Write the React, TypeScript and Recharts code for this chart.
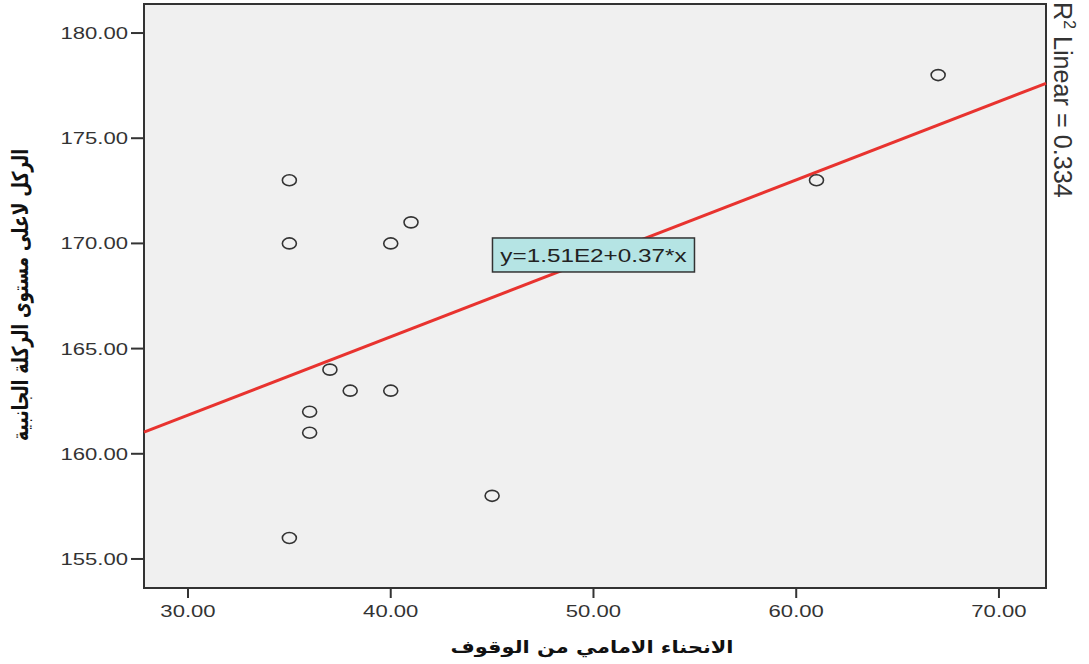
import {
  ScatterChart, Scatter, XAxis, YAxis, CartesianGrid, ReferenceLine, ReferenceArea, ReferenceDot
} from "recharts";

const xValues = [35, 35, 41, 40, 37, 38, 40, 36, 36, 45, 35, 61, 67];
const yValues = [173, 170, 171, 170, 164, 163, 163, 162, 161, 158, 156, 173, 178];
const xTicks = [30, 40, 50, 60, 70];
const yTicks = [155, 160, 165, 170, 175, 180];
const xDomain = [27.83, 72.32];
const yDomain = [153.62, 181.38];
// fit line endpoints at the plot edges
const fitX = [27.83, 72.32];
const fitY = [161.03, 177.61];
const equationText = "y=1.51E2+0.37*x";
const rSquaredText = "Linear = 0.334";
const xTitle = "الانحناء الامامي من الوقوف";
const yTitle = "الركل لاعلى مستوى الركلة الجانبية";

const points = xValues.map((x, i) => ({ x, y: yValues[i] }));

const FONT = "'Liberation Sans', Arial, sans-serif";
const AR_FONT = "'DejaVu Sans', 'Liberation Sans', sans-serif";

const XTick = ({ x, y, payload }: any) => (
  <g transform={`translate(${x},${y})`}>
    <text transform="scale(1.3,1)" y={19} textAnchor="middle" fontSize={17} fontFamily={FONT} fill="#333">
      {Number(payload.value).toFixed(2)}
    </text>
  </g>
);

// y tick labels end just left of the tick marks
const YTick = ({ y, payload }: any) => (
  <g transform={`translate(128,${y})`}>
    <text transform="scale(1.3,1)" y={6} textAnchor="end" fontSize={17} fontFamily={FONT} fill="#333">
      {Number(payload.value).toFixed(2)}
    </text>
  </g>
);

const Ring = ({ cx, cy }: any) => (
  <ellipse cx={cx} cy={cy} rx={7} ry={5.5} fill="none" stroke="#333" strokeWidth={1.6} />
);

const EquationBox = ({ cx, cy }: any) => (
  <g>
    <rect x={cx - 101} y={cy - 17} width={202} height={34} fill="#b5e4e4" stroke="#333" strokeWidth={1.5} />
    <g transform={`translate(${cx},${cy + 7})`}>
      <text transform="scale(1.35,1)" textAnchor="middle" fontSize={18} fontFamily={FONT} fill="#222">
        {equationText}
      </text>
    </g>
  </g>
);

export default function App() {
  return (
    <div style={{ position: "absolute", left: 0, top: 0, width: 1089, height: 664, background: "#fff" }}>
      <ScatterChart width={1089} height={664} margin={{ top: 4, right: 43, bottom: 0, left: 0 }}>
        <CartesianGrid horizontal={false} vertical={false} fill="#f0f0f0" />
        <XAxis
          type="number"
          dataKey="x"
          domain={xDomain}
          allowDataOverflow
          ticks={xTicks}
          height={76}
          axisLine={false}
          tickSize={10}
          tickMargin={0}
          tickLine={{ stroke: "#333", strokeWidth: 2 }}
          tick={<XTick />}
          label={{
            content: () => (
              <g transform="translate(592,653)">
                <text transform="scale(1.23,1)" textAnchor="middle" fontSize={17} fontWeight="bold" fontFamily={AR_FONT} fill="#111" direction="rtl">
                  {xTitle}
                </text>
              </g>
            ),
          }}
        />
        <YAxis
          type="number"
          dataKey="y"
          domain={yDomain}
          allowDataOverflow
          ticks={yTicks}
          width={144}
          axisLine={false}
          tickSize={13}
          tickMargin={0}
          tickLine={{ stroke: "#333", strokeWidth: 2 }}
          tick={<YTick />}
          label={{
            content: () => (
              <g transform="translate(28,295) rotate(-90)">
                <text transform="scale(1,1.3)" textAnchor="middle" fontSize={17} fontWeight="bold" fontFamily={AR_FONT} fill="#111" direction="rtl">
                  {yTitle}
                </text>
              </g>
            ),
          }}
        />
        <ReferenceArea
          x1={xDomain[0]}
          x2={xDomain[1]}
          y1={yDomain[0]}
          y2={yDomain[1]}
          fill="none"
          stroke="#333"
          strokeWidth={2}
          ifOverflow="visible"
        />
        <ReferenceLine
          segment={[{ x: fitX[0], y: fitY[0] }, { x: fitX[1], y: fitY[1] }]}
          stroke="#e8332f"
          strokeWidth={3}
          ifOverflow="visible"
        />
        <Scatter data={points} shape={<Ring />} isAnimationActive={false} />
        <ReferenceDot x={50} y={169.45} ifOverflow="visible" shape={<EquationBox />} />
      </ScatterChart>
      <svg width={1089} height={664} style={{ position: "absolute", left: 0, top: 0, pointerEvents: "none" }}>
        <g transform="translate(1054,2) rotate(90)">
          <text fontSize={24} fontFamily={FONT} fill="#333" transform="scale(1.05,1.1)">
            R<tspan fontSize={15} dy={-9}>2</tspan>
            <tspan dy={9}> {rSquaredText}</tspan>
          </text>
        </g>
      </svg>
    </div>
  );
}
